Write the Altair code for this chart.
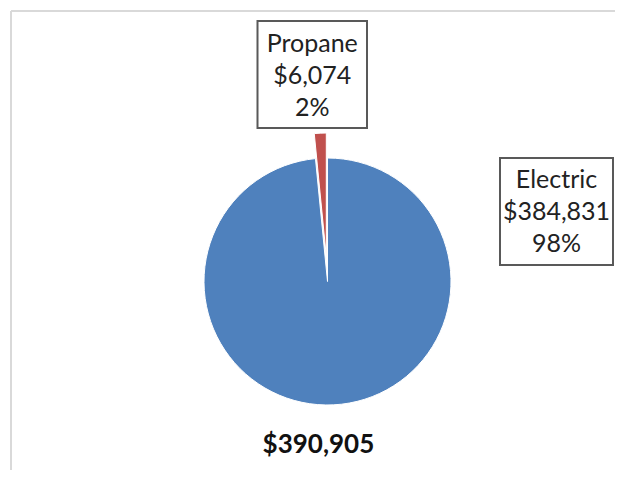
import altair as alt
import pandas as pd

# ---- data ----
fuels = ["Electric", "Propane"]
costs = [384831, 6074]
colors = ["#4F81BD", "#C0504D"]

total = sum(costs)
df = pd.DataFrame({
    "fuel": fuels,
    "cost": costs,
    "order": list(range(len(fuels))),
})
df["label"] = [
    f"{f}\n${c:,}\n{round(100 * c / total)}%" for f, c in zip(fuels, costs)
]
tot_df = pd.DataFrame({"total": [f"${total:,}"]})

FONT = "Lato"
color_enc = alt.Color("fuel:N", scale=alt.Scale(domain=fuels, range=colors), legend=None)
theta_scale = alt.Scale(domain=[0, total])

base = (
    alt.Chart(df)
    .transform_window(cum="sum(cost)", sort=[alt.SortField("order")])
    .transform_calculate(start="datum.cum - datum.cost")
)

# Electric slice (center of pie)
pie_main = base.transform_filter(alt.datum.fuel == "Electric").mark_arc(
    outerRadius=123.5, stroke="white", strokeWidth=1
).encode(
    theta=alt.Theta("start:Q", scale=theta_scale),
    theta2="cum:Q",
    color=color_enc,
    x=alt.value(319.5),
    y=alt.value(273.5),
)

# Propane slice, exploded
pie_expl = base.transform_filter(alt.datum.fuel == "Propane").mark_arc(
    outerRadius=123.5, stroke="white", strokeWidth=1
).encode(
    theta=alt.Theta("start:Q", scale=theta_scale),
    theta2="cum:Q",
    color=color_enc,
    x=alt.value(318.3),
    y=alt.value(248.5),
)

# frame lines
frame_top = alt.Chart(tot_df).mark_rule(color="#D9D9D9", strokeWidth=2).encode(
    x=alt.value(3), x2=alt.value(700), y=alt.value(3)
)
frame_left = alt.Chart(tot_df).mark_rule(color="#D9D9D9", strokeWidth=2).encode(
    x=alt.value(3), y=alt.value(3), y2=alt.value(600)
)

def label_box(fuel, x1, y1, x2, y2, first_line_y):
    box = alt.Chart(df).transform_filter(alt.datum.fuel == fuel).mark_rect(
        fill="white", stroke="#595959", strokeWidth=2
    ).encode(
        x=alt.value(x1), x2=alt.value(x2), y=alt.value(y1), y2=alt.value(y2)
    )
    txt = alt.Chart(df).transform_filter(alt.datum.fuel == fuel).mark_text(
        font=FONT, fontSize=25, lineBreak="\n", lineHeight=32,
        align="center", baseline="middle", color="#222222"
    ).encode(
        text="label:N",
        x=alt.value((x1 + x2) / 2),
        y=alt.value(first_line_y),
    )
    return box + txt

prop_lbl = label_box("Propane", 249.5, 13, 359, 120, 36)
elec_lbl = label_box("Electric", 492, 150, 605, 257, 172)

total_txt = alt.Chart(tot_df).mark_text(
    font=FONT, fontSize=26, fontWeight="bold", align="center", baseline="middle",
    color="#111111"
).encode(
    text="total:N", x=alt.value(310.4), y=alt.value(437)
)

chart = alt.layer(
    frame_top, frame_left, pie_main, pie_expl, prop_lbl, elec_lbl, total_txt
).properties(
    width=607, height=462, autosize="none", padding=0
).configure_view(stroke=None)

chart.save("out.html", embed_options={"renderer": "svg", "actions": False})
